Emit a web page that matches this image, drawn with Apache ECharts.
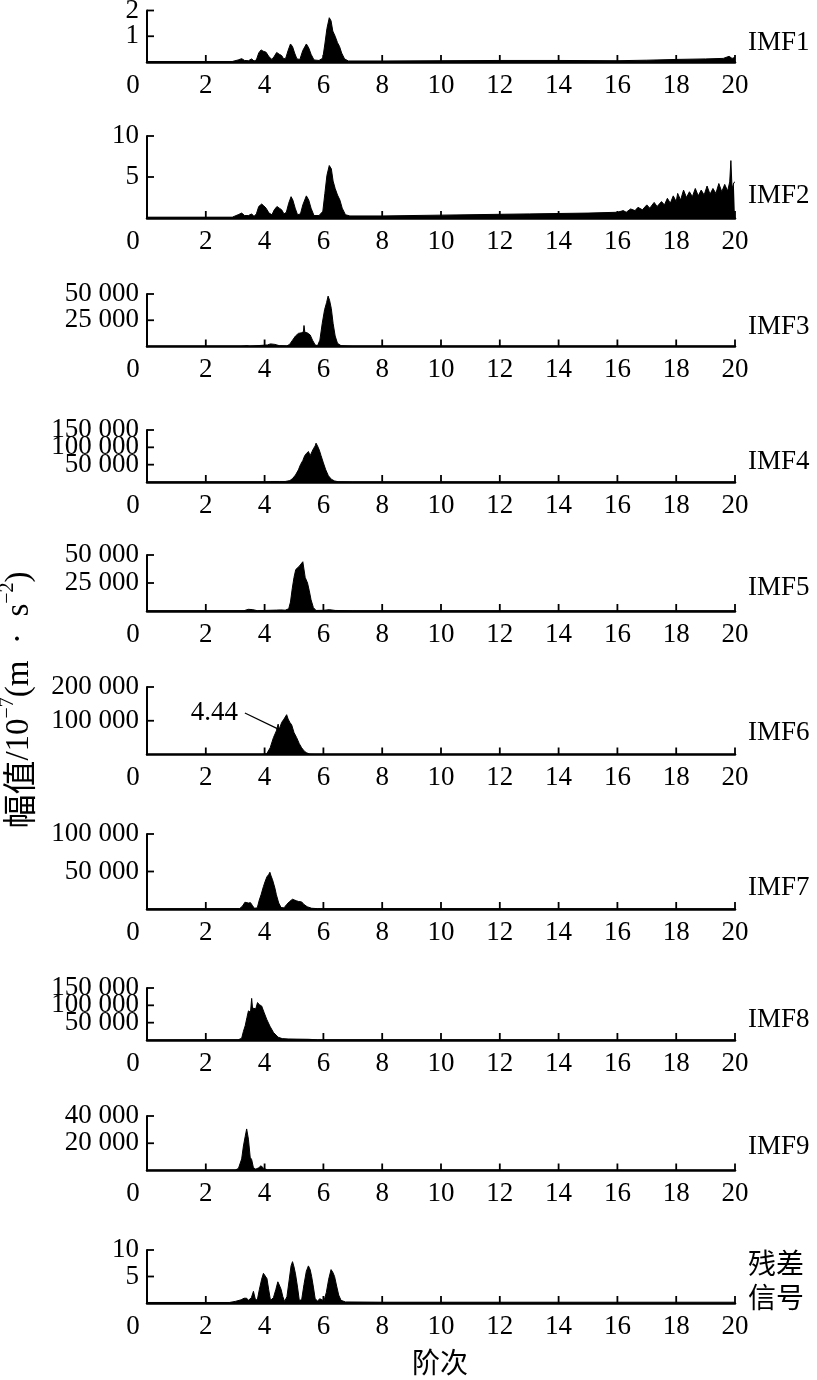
<!DOCTYPE html>
<html>
<head>
<meta charset="utf-8">
<script src="https://cdn.jsdelivr.net/npm/echarts@6/dist/echarts.min.js"></script>
<style>
html,body{margin:0;padding:0;background:#fff;}
#c{width:817px;height:1380px;}
</style>
</head>
<body>
<div id="c"></div>
<script>
// ---------- data (order, amplitude) ----------
const imf1 = [[0,0.02],[2.9,0.02],[3.1,0.08],[3.22,0.13],[3.32,0.06],[3.45,0.05],[3.56,0.12],[3.64,0.04],[3.72,0.08],[3.8,0.35],[3.88,0.47],[3.95,0.42],[4.05,0.38],[4.15,0.2],[4.25,0.1],[4.33,0.22],[4.41,0.37],[4.5,0.3],[4.58,0.25],[4.65,0.12],[4.72,0.15],[4.8,0.45],[4.88,0.7],[4.95,0.6],[5.02,0.35],[5.1,0.12],[5.2,0.1],[5.3,0.45],[5.42,0.7],[5.5,0.55],[5.58,0.3],[5.68,0.08],[5.85,0.06],[5.98,0.15],[6.05,0.7],[6.12,1.3],[6.2,1.72],[6.26,1.6],[6.32,1.2],[6.4,1.0],[6.48,0.75],[6.55,0.6],[6.62,0.35],[6.72,0.12],[6.85,0.04],[8,0.04],[10,0.05],[12,0.06],[14,0.06],[16,0.05],[17,0.07],[18,0.1],[19,0.12],[19.6,0.14],[19.8,0.22],[19.9,0.14],[20,0.18]];
const imf2 = [[0,0.1],[2.9,0.1],[3.1,0.4],[3.22,0.6],[3.32,0.3],[3.45,0.3],[3.56,0.5],[3.64,0.2],[3.72,0.5],[3.8,1.4],[3.9,1.7],[3.97,1.5],[4.05,1.2],[4.15,0.6],[4.25,0.4],[4.33,1.0],[4.42,1.4],[4.5,1.2],[4.58,1.0],[4.66,0.5],[4.74,0.7],[4.82,1.8],[4.9,2.6],[4.96,2.2],[5.04,1.2],[5.12,0.4],[5.22,0.5],[5.3,1.6],[5.42,2.7],[5.5,2.2],[5.58,1.2],[5.68,0.3],[5.85,0.3],[5.98,0.8],[6.05,3.0],[6.12,5.2],[6.2,6.4],[6.27,6.0],[6.33,4.5],[6.4,3.6],[6.48,2.8],[6.56,2.2],[6.64,1.2],[6.75,0.4],[6.9,0.25],[8,0.25],[10,0.35],[12,0.45],[13,0.5],[14,0.55],[15,0.6],[16,0.7],[16.2,0.9],[16.3,0.7],[16.45,1.1],[16.6,0.9],[16.7,1.3],[16.85,1.0],[17.0,1.6],[17.1,1.2],[17.25,1.9],[17.35,1.4],[17.5,2.0],[17.6,1.6],[17.7,2.4],[17.8,1.8],[17.9,2.7],[18.0,2.0],[18.05,3.0],[18.15,2.2],[18.25,3.4],[18.35,2.5],[18.45,3.2],[18.55,2.6],[18.65,3.6],[18.75,2.7],[18.85,3.4],[18.95,2.8],[19.05,3.9],[19.15,2.9],[19.25,3.6],[19.35,3.0],[19.45,4.2],[19.55,3.2],[19.65,4.1],[19.75,3.3],[19.82,4.4],[19.86,7.0],[19.9,3.6],[19.96,4.3],[20,4.4]];
const imf3 = [[0,300],[3.2,300],[3.4,800],[3.5,300],[4.1,1500],[4.2,2500],[4.35,2000],[4.5,800],[4.75,500],[4.85,2000],[4.95,6000],[5.05,10000],[5.15,12500],[5.25,13000],[5.32,14000],[5.34,20000],[5.37,13500],[5.45,13000],[5.55,11000],[5.63,6000],[5.72,1500],[5.8,800],[5.88,6000],[5.96,22000],[6.04,35000],[6.11,42000],[6.16,48000],[6.21,44000],[6.27,36000],[6.33,22000],[6.4,10000],[6.48,3000],[6.6,800],[7,300],[20,300]];
const imf4 = [[0,300],[4.0,500],[4.2,1500],[4.5,1500],[4.7,1500],[4.86,4000],[4.95,10000],[5.05,20000],[5.15,35000],[5.22,50000],[5.3,62000],[5.36,75000],[5.42,82000],[5.46,78000],[5.49,88000],[5.55,76000],[5.6,72000],[5.66,96000],[5.72,104000],[5.75,112000],[5.8,104000],[5.86,92000],[5.92,76000],[6.0,55000],[6.08,35000],[6.17,18000],[6.27,8000],[6.38,3000],[6.5,800],[7,300],[20,300]];
const imf5 = [[0,200],[3.3,300],[3.45,1500],[3.6,1200],[3.75,300],[4.4,800],[4.55,1000],[4.7,700],[4.82,2000],[4.88,8000],[4.94,20000],[5.0,30000],[5.06,37000],[5.12,36000],[5.18,40000],[5.24,39000],[5.3,44000],[5.34,44500],[5.38,30000],[5.46,25000],[5.52,18000],[5.58,10000],[5.66,3000],[5.75,500],[6.0,600],[6.2,1200],[6.4,500],[7,200],[20,200]];
const imf6 = [[0,300],[3.9,500],[4.07,2000],[4.19,20000],[4.3,50000],[4.4,70000],[4.46,90000],[4.5,75000],[4.58,95000],[4.66,105000],[4.75,118000],[4.8,105000],[4.86,95000],[4.92,88000],[5.0,65000],[5.09,50000],[5.18,32000],[5.26,20000],[5.35,10000],[5.43,5000],[5.54,1000],[5.7,500],[20,300]];
const imf7 = [[0,300],[3.15,500],[3.25,4000],[3.33,9000],[3.39,10500],[3.45,8000],[3.52,8500],[3.58,5000],[3.65,1000],[3.75,1500],[3.82,12000],[3.88,19000],[3.96,30000],[4.02,37000],[4.08,43000],[4.14,46000],[4.18,49000],[4.22,44000],[4.27,39000],[4.35,28000],[4.4,19000],[4.48,8000],[4.56,2000],[4.66,1500],[4.75,6000],[4.85,10000],[4.95,13000],[5.0,14700],[5.08,11000],[5.16,10000],[5.26,9500],[5.34,6000],[5.45,3000],[5.6,1000],[5.8,500],[20,300]];
const imf8 = [[0,300],[3.1,500],[3.22,5000],[3.28,25000],[3.34,41000],[3.4,65000],[3.45,84000],[3.52,80000],[3.56,120000],[3.59,92000],[3.64,95000],[3.7,90000],[3.76,108000],[3.82,102000],[3.9,98000],[3.98,80000],[4.07,60000],[4.18,40000],[4.3,22000],[4.46,8000],[4.6,4000],[4.8,3000],[5.1,2500],[5.5,2000],[5.8,500],[20,300]];
const imf9 = [[0,200],[3.0,300],[3.11,1500],[3.22,8500],[3.28,18000],[3.34,25000],[3.39,30500],[3.45,23000],[3.51,9700],[3.56,8000],[3.62,2000],[3.7,1000],[3.8,2000],[3.88,3500],[3.92,4200],[3.97,1500],[4.1,500],[20,200]];
const residual = [[0,0.1],[2.8,0.1],[3.0,0.3],[3.2,0.6],[3.3,0.9],[3.39,0.9],[3.45,0.5],[3.55,1.0],[3.62,2.2],[3.68,0.8],[3.75,0.5],[3.82,2.5],[3.9,4.5],[3.96,5.6],[4.02,5.4],[4.08,4.6],[4.14,2.5],[4.2,0.5],[4.3,1.0],[4.38,2.5],[4.45,4.0],[4.5,3.4],[4.56,2.6],[4.62,1.2],[4.68,0.3],[4.76,1.2],[4.84,4.5],[4.9,7.0],[4.95,7.8],[5.0,6.8],[5.05,5.5],[5.12,3.0],[5.18,0.5],[5.26,0.6],[5.34,3.5],[5.42,6.0],[5.49,7.0],[5.55,6.3],[5.6,5.0],[5.66,3.0],[5.72,0.8],[5.8,0.4],[5.88,0.8],[5.95,0.6],[6.02,0.4],[6.1,2.0],[6.18,4.5],[6.26,6.3],[6.32,5.8],[6.38,5.0],[6.45,3.2],[6.52,1.5],[6.6,0.5],[6.75,0.2],[8,0.15],[20,0.15]];

const panelNames = ['IMF1','IMF2','IMF3','IMF4','IMF5','IMF6','IMF7','IMF8','IMF9','残差\n信号'];
const yMax = [2, 10, 50000, 150000, 50000, 200000, 100000, 150000, 40000, 10];
const yTicks = [[1,2],[5,10],[25000,50000],[50000,100000,150000],[25000,50000],[100000,200000],[50000,100000],[50000,100000,150000],[20000,40000],[5,10]];
const xTicks = [0,2,4,6,8,10,12,14,16,18,20];
const xMax = 20, xInterval = 2;
const peakLabel = '4.44';
const peakLine = [[3.33,123000],[4.45,76000]];
const xTitle = '阶次';

const seriesData = [imf1, imf2, imf3, imf4, imf5, imf6, imf7, imf8, imf9, residual];

// ---------- layout ----------
const layout = [ // [top, baseline]
  [10.5, 62], [136, 218], [294, 346.5], [430, 482], [555, 611],
  [687, 754.5], [834, 909], [988, 1040], [1116, 1170.5], [1250, 1303]
];
const nameY = [43, 196, 327, 462, 588, 733, 888, 1020, 1147, 1280];
const GL = 147, GR = 82;
const SERIF = '"Liberation Serif","Times New Roman","Noto Sans CJK SC",serif';
const CJK = '"Noto Sans CJK SC",sans-serif';
const FS = 27, TICK = 7, TICKW = 1.8;

function fmt(v){ return String(v).replace(/\B(?=(\d{3})+(?!\d))/g, ' '); }

const grids = [], xAxes = [], yAxes = [], series = [], graphics = [];
layout.forEach((g, i) => {
  const h = g[1] - g[0];
  grids.push({ left: GL, right: GR, top: g[0], height: h, containLabel: false });
  xAxes.push({
    type: 'value', gridIndex: i, min: 0, max: xMax, interval: xInterval, position: 'bottom',
    axisLine: { show: true, onZero: false, lineStyle: { color: '#000', width: 2.5 } },
    axisTick: { show: false },
    splitLine: { show: false },
    axisLabel: {
      margin: 10, color: '#000', fontSize: FS, fontFamily: SERIF,
      formatter: v => v === 0 ? '{z|0}' : String(v),
      rich: { z: { fontSize: FS, fontFamily: SERIF, color: '#000', padding: [0, 28, 0, 0] } }
    }
  });
  yAxes.push({
    type: 'value', gridIndex: i, min: 0, max: yMax[i], position: 'left',
    axisLine: { show: true, onZero: false, lineStyle: { color: '#000', width: 2 } },
    axisTick: { show: false }, axisLabel: { show: false },
    splitLine: { show: false }
  });
  // spectrum
  series.push({
    type: 'line', xAxisIndex: i, yAxisIndex: i, data: seriesData[i],
    showSymbol: false, symbol: 'none', smooth: false,
    lineStyle: { color: '#000', width: 1 },
    areaStyle: { color: '#000', opacity: 1 },
    silent: true, z: 2
  });
  // inward x ticks on the baseline (positions from the x scale)
  series.push({
    type: 'custom', xAxisIndex: i, yAxisIndex: i, silent: true, z: 4, clip: false,
    data: xTicks.map(v => [v, 0]),
    renderItem: (params, api) => {
      const p = api.coord([api.value(0), 0]);
      return { type: 'line', shape: { x1: p[0], y1: p[1], x2: p[0], y2: p[1] - TICK }, style: { stroke: '#000', lineWidth: TICKW } };
    }
  });
  // inward y ticks + y tick labels (positions from the y scale)
  series.push({
    type: 'custom', xAxisIndex: i, yAxisIndex: i, silent: true, z: 4, clip: false,
    data: yTicks[i].map(v => [0, v]),
    renderItem: (params, api) => {
      const v = api.value(1);
      const p = api.coord([0, v]);
      return { type: 'group', children: [
        { type: 'line', shape: { x1: p[0], y1: p[1], x2: p[0] + TICK, y2: p[1] }, style: { stroke: '#000', lineWidth: TICKW } },
        { type: 'text', x: p[0] - 8, y: p[1], style: { text: fmt(v), fill: '#000', fontSize: FS, fontFamily: SERIF, align: 'right', verticalAlign: 'middle' } }
      ] };
    }
  });
  graphics.push({
    type: 'text', x: 748, y: nameY[i], silent: true,
    style: {
      text: panelNames[i], fill: '#000', fontSize: i === 9 ? 28 : FS,
      fontFamily: i === 9 ? CJK : SERIF,
      align: 'left', verticalAlign: 'middle', lineHeight: 34
    }
  });
});

// annotation "4.44" on IMF6
series.push({
  type: 'line', xAxisIndex: 5, yAxisIndex: 5,
  data: [
    { value: peakLine[0], label: { show: true, position: 'left', distance: 7, formatter: peakLabel, color: '#000', fontSize: FS, fontFamily: SERIF } },
    { value: peakLine[1] }
  ],
  showSymbol: true, symbol: 'circle', symbolSize: 0,
  lineStyle: { color: '#000', width: 1.2 }, silent: true, z: 5
});

// axis titles
graphics.push({
  type: 'text', x: 440, y: 1362, silent: true,
  style: { text: xTitle, fill: '#000', fontSize: 28, fontFamily: CJK, align: 'center', verticalAlign: 'middle' }
});
graphics.push({
  type: 'text', x: 17, y: 700, rotation: Math.PI / 2, silent: true,
  style: {
    text: '{c|幅值}{a|/10}{s|−7}{a|(m  ·  s}{s|−2}{a|)}',
    align: 'center', verticalAlign: 'middle',
    rich: {
      c: { fontSize: 34, fontFamily: CJK, fill: '#000', lineHeight: 38, verticalAlign: 'bottom' },
      a: { fontSize: 33, fontFamily: SERIF, fill: '#000', lineHeight: 38, verticalAlign: 'bottom' },
      s: { fontSize: 20, fontFamily: SERIF, fill: '#000', lineHeight: 38, verticalAlign: 'top' }
    }
  }
});

const chart = echarts.init(document.getElementById('c'), null, { renderer: 'canvas' });
chart.setOption({
  animation: false,
  backgroundColor: '#fff',
  grid: grids, xAxis: xAxes, yAxis: yAxes, series: series,
  graphic: graphics
});
</script>
</body>
</html>
